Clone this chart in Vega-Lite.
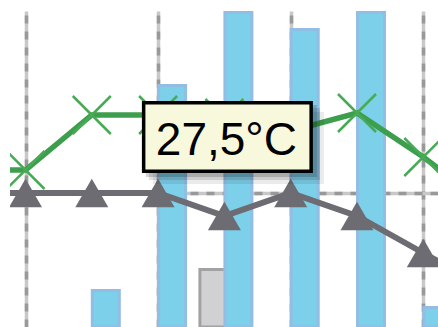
{
  "$schema": "https://vega.github.io/schema/vega-lite/v6.json",
  "width": 428,
  "height": 316,
  "padding": {"left": 10, "top": 11, "right": 0, "bottom": 0},
  "autosize": {"type": "none"},
  "background": "white",
  "config": {"view": {"stroke": null}, "scale": {"continuousPadding": 0}},
  "datasets": {
    "temps": [
      {"day": -1, "tmax": 22.3, "tmin": 20.0},
      {"day": 0, "tmax": 22.3, "tmin": 20.0},
      {"day": 1, "tmax": 27.8, "tmin": 20.0},
      {"day": 2, "tmax": 27.8, "tmin": 20.0},
      {"day": 3, "tmax": 27.5, "tmin": 17.7},
      {"day": 4, "tmax": 26.2, "tmin": 20.0},
      {"day": 5, "tmax": 28.0, "tmin": 17.7},
      {"day": 6, "tmax": 23.6, "tmin": 14.0},
      {"day": 7, "tmax": 18.6, "tmin": 10.3}
    ],
    "rain": [
      {"day": 1, "mm": 3.65},
      {"day": 2, "mm": 24.15},
      {"day": 3, "mm": 31.45},
      {"day": 4, "mm": 29.75},
      {"day": 5, "mm": 31.45},
      {"day": 6, "mm": 1.95}
    ],
    "snow": [
      {"day": 3, "mm": 5.75}
    ],
    "note": [
      {"day": 3, "t": 27.5, "label": "27,5°C"}
    ]
  },
  "layer": [
    {
      "data": {"name": "snow"},
      "mark": {"type": "bar", "width": 27, "xOffset": -11, "fill": "#d1d1d3", "stroke": "#a2a2a4", "strokeWidth": 3, "clip": true},
      "encoding": {
        "x": {"field": "day", "type": "quantitative", "scale": {"domain": [-0.2338, 6.2217], "nice": false, "zero": false, "padding": 0}, "axis": null},
        "y": {"field": "mm", "type": "quantitative", "scale": {"domain": [0, 31.6], "nice": false}, "axis": null}
      }
    },
    {
      "data": {"name": "rain"},
      "mark": {"type": "bar", "width": 27, "xOffset": 14, "fill": "#7dd0ea", "stroke": "#92bde4", "strokeWidth": 3, "clip": true},
      "encoding": {
        "x": {"field": "day", "type": "quantitative", "scale": {"domain": [-0.2338, 6.2217], "nice": false, "zero": false, "padding": 0}, "axis": null},
        "y": {"field": "mm", "type": "quantitative", "scale": {"domain": [0, 31.6], "nice": false}, "axis": null}
      }
    },
    {
      "data": {"name": "temps"},
      "mark": {"type": "line", "color": "#6c6c72", "strokeWidth": 6, "clip": true},
      "encoding": {
        "x": {"field": "day", "type": "quantitative", "scale": {"domain": [-0.2338, 6.2217], "nice": false, "zero": false, "padding": 0},
              "axis": {"orient": "bottom", "grid": true, "gridColor": "#c8c8c8", "gridWidth": 3.5, "values": [0, 2, 4, 6], "labels": false, "ticks": false, "domain": false, "title": null}},
        "y": {"field": "tmin", "type": "quantitative", "scale": {"domain": [6.6, 38.2], "nice": false, "zero": false},
              "axis": {"orient": "left", "grid": true, "gridColor": "#c8c8c8", "gridWidth": 3.3, "values": [20], "labels": false, "ticks": false, "domain": false, "title": null}}
      }
    },
    {
      "data": {"name": "temps"},
      "mark": {"type": "point", "shape": "triangle-up", "size": 1089, "filled": true, "color": "#6c6c72", "fill": "#6c6c72", "strokeWidth": 0, "opacity": 1, "clip": true},
      "encoding": {
        "x": {"field": "day", "type": "quantitative", "scale": {"domain": [-0.2338, 6.2217], "nice": false, "zero": false, "padding": 0},
              "axis": {"orient": "top", "grid": true, "gridColor": "#999999", "gridWidth": 3.5, "gridDash": [8, 8], "values": [0, 2, 4, 6], "labels": false, "ticks": false, "domain": false, "title": null}},
        "y": {"field": "tmin", "type": "quantitative", "scale": {"domain": [6.6, 38.2], "nice": false, "zero": false},
              "axis": {"orient": "right", "grid": true, "gridColor": "#999999", "gridWidth": 3.3, "gridDash": [8, 8], "values": [20], "labels": false, "ticks": false, "domain": false, "title": null}}
      }
    },
    {
      "data": {"name": "temps"},
      "mark": {"type": "line", "color": "#3d9f4d", "strokeWidth": 5.5, "clip": true},
      "encoding": {
        "x": {"field": "day", "type": "quantitative", "scale": {"domain": [-0.2338, 6.2217], "nice": false, "zero": false, "padding": 0}, "axis": null},
        "y": {"field": "tmax", "type": "quantitative", "scale": {"domain": [6.6, 38.2], "nice": false, "zero": false}, "axis": null}
      }
    },
    {
      "data": {"name": "temps"},
      "mark": {"type": "point", "shape": "M-1,-1L1,1M-1,1L1,-1", "size": 1444, "filled": false, "stroke": "#47aa55", "strokeWidth": 2.5, "opacity": 1, "clip": true},
      "encoding": {
        "x": {"field": "day", "type": "quantitative", "scale": {"domain": [-0.2338, 6.2217], "nice": false, "zero": false, "padding": 0}, "axis": null},
        "y": {"field": "tmax", "type": "quantitative", "scale": {"domain": [6.6, 38.2], "nice": false, "zero": false}, "axis": null}
      }
    },
    {
      "data": {"name": "note"},
      "mark": {"type": "point", "shape": "M-1,-0.409L1,-0.409L1,0.409L-1,0.409Z", "size": 28056, "filled": true, "fill": "#000000", "stroke": "#000000", "strokeWidth": 3.5, "opacity": 0.16, "xOffset": 7, "yOffset": 23},
      "encoding": {
        "x": {"field": "day", "type": "quantitative", "scale": {"domain": [-0.2338, 6.2217], "nice": false, "zero": false, "padding": 0}, "axis": null},
        "y": {"field": "t", "type": "quantitative", "scale": {"domain": [6.6, 38.2], "nice": false, "zero": false}, "axis": null}
      }
    },
    {
      "data": {"name": "note"},
      "mark": {"type": "point", "shape": "M-1,-0.409L1,-0.409L1,0.409L-1,0.409Z", "size": 28056, "filled": true, "fill": "#000000", "stroke": "#000000", "strokeWidth": 3.5, "opacity": 0.12, "xOffset": 10, "yOffset": 26},
      "encoding": {
        "x": {"field": "day", "type": "quantitative", "scale": {"domain": [-0.2338, 6.2217], "nice": false, "zero": false, "padding": 0}, "axis": null},
        "y": {"field": "t", "type": "quantitative", "scale": {"domain": [6.6, 38.2], "nice": false, "zero": false}, "axis": null}
      }
    },
    {
      "data": {"name": "note"},
      "mark": {"type": "point", "shape": "M-1,-0.409L1,-0.409L1,0.409L-1,0.409Z", "size": 28056, "filled": true, "fill": "#000000", "stroke": "#000000", "strokeWidth": 3.5, "opacity": 0.08, "xOffset": 14, "yOffset": 30},
      "encoding": {
        "x": {"field": "day", "type": "quantitative", "scale": {"domain": [-0.2338, 6.2217], "nice": false, "zero": false, "padding": 0}, "axis": null},
        "y": {"field": "t", "type": "quantitative", "scale": {"domain": [6.6, 38.2], "nice": false, "zero": false}, "axis": null}
      }
    },
    {
      "data": {"name": "note"},
      "mark": {"type": "point", "shape": "M-1,-0.409L1,-0.409L1,0.409L-1,0.409Z", "size": 28056, "filled": true, "fill": "#f8f8dc", "stroke": "#000000", "strokeWidth": 3.5, "opacity": 1, "xOffset": 3, "yOffset": 19},
      "encoding": {
        "x": {"field": "day", "type": "quantitative", "scale": {"domain": [-0.2338, 6.2217], "nice": false, "zero": false, "padding": 0}, "axis": null},
        "y": {"field": "t", "type": "quantitative", "scale": {"domain": [6.6, 38.2], "nice": false, "zero": false}, "axis": null}
      }
    },
    {
      "data": {"name": "note"},
      "mark": {"type": "text", "font": "Liberation Sans", "fontSize": 46, "color": "#000000", "align": "center", "baseline": "alphabetic", "dx": 2, "dy": 37},
      "encoding": {
        "x": {"field": "day", "type": "quantitative", "scale": {"domain": [-0.2338, 6.2217], "nice": false, "zero": false, "padding": 0}, "axis": null},
        "y": {"field": "t", "type": "quantitative", "scale": {"domain": [6.6, 38.2], "nice": false, "zero": false}, "axis": null},
        "text": {"field": "label"}
      }
    }
  ],
  "resolve": {"scale": {"y": "independent"}, "axis": {"x": "independent", "y": "independent"}}
}
